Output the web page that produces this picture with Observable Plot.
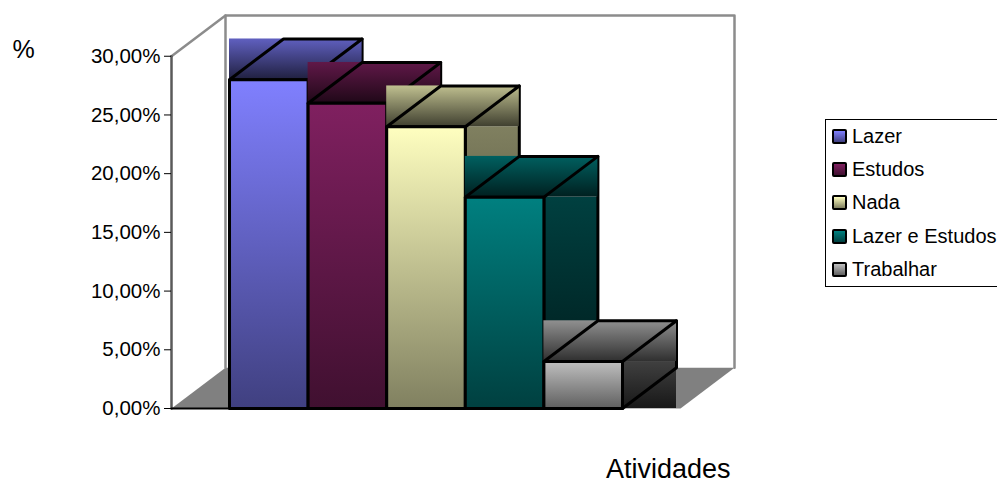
<!DOCTYPE html>
<html lang="pt-BR">
<head>
<meta charset="utf-8">
<script src="https://cdn.jsdelivr.net/npm/d3@7"></script>
<script src="https://cdn.jsdelivr.net/npm/@observablehq/plot@0.6"></script>
<style>
  html, body { margin: 0; padding: 0; background: #fff; overflow: hidden; }
  #chart { position: relative; width: 997px; height: 480px; overflow: hidden; font-family: "Liberation Sans", Arial, sans-serif; }
  #legend { position: absolute; left: 825px; top: 119px; width: 190px; height: 166px; border: 1px solid #000; box-sizing: content-box; }
  #legend div { position: absolute; left: 6px; height: 33px; display: flex; align-items: center; font-size: 20px; white-space: nowrap; color: #000; }
  #legend i { display: inline-block; width: 11px; height: 11px; border: 2px solid #000; border-radius: 2px; margin-right: 5px; }
</style>
</head>
<body>
<div id="chart"></div>
<script>
// Share of respondents per activity, in percent
const categories = ["Lazer", "Estudos", "Nada", "Lazer e Estudos", "Trabalhar"];
const values = [28, 26, 24, 18, 4];
const yTicks = [0, 5, 10, 15, 20, 25, 30];

// Gradient stops for each bar: front, top and side faces
const frontStart = ["#8080ff", "#802060", "#ffffc0", "#008080", "#c0c0c0"];
const frontEnd   = ["#404080", "#401030", "#808060", "#004040", "#606060"];
const topStart   = ["#6060c0", "#601848", "#c0c090", "#006060", "#909090"];
const topEnd     = ["#202040", "#200818", "#404030", "#002020", "#303030"];
const sideStart  = ["#404080", "#401030", "#808060", "#004040", "#404040"];
const sideEnd    = ["#101030", "#180818", "#303020", "#001818", "#181818"];

// Oblique depth of the 3-D box, expressed in scale units
const depthX = 0.687;
const depthY = 3.47;
const pad = 0.738;
const n = categories.length;
const xMax = n + pad + depthX;
const yMax = 30 + depthY;

const black = "#000";
const wall = "#8c8c8c";

function gradient(defs, id, a, b) {
  const g = defs.append("linearGradient").attr("id", id)
    .attr("x1", 0).attr("y1", 0).attr("x2", 0).attr("y2", 1);
  g.append("stop").attr("offset", 0).attr("stop-color", a);
  g.append("stop").attr("offset", 1).attr("stop-color", b);
}

const defsMark = () => {
  const defs = d3.create("svg:defs");
  categories.forEach((_, i) => {
    gradient(defs, `front${i}`, frontStart[i], frontEnd[i]);
    gradient(defs, `top${i}`, topStart[i], topEnd[i]);
    gradient(defs, `side${i}`, sideStart[i], sideEnd[i]);
  });
  return defs.node();
};

const poly = (pts, opts) => Plot.line(pts, {x: d => d[0], y: d => d[1], ...opts});
const box = (x1, x2, y1, y2, fill) =>
  Plot.rect([0], {x1: () => x1, x2: () => x2, y1: () => y1, y2: () => y2, fill});

// Painted left to right, so each bar overlaps the previous one
const barMarks = values.flatMap((v, i) => {
  const l = i, r = i + 1;
  const outline = {stroke: black, strokeWidth: 3, curve: "linear-closed"};
  return [
    box(r, r + depthX, 0, v, `url(#side${i})`),
    poly([[r, v], [r + depthX, v + depthY], [r + depthX, depthY], [r, 0]], outline),
    box(l, r + depthX, v, v + depthY, `url(#top${i})`),
    poly([[l, v], [l + depthX, v + depthY], [r + depthX, v + depthY], [r, v]], outline),
    box(l, r, 0, v, `url(#front${i})`),
    poly([[l, 0], [l, v], [r, v], [r, 0]], outline)
  ];
});

const plot = Plot.plot({
  width: 997,
  height: 480,
  marginLeft: 171,
  marginRight: 263,
  marginTop: 15,
  marginBottom: 72,
  style: {fontFamily: '"Liberation Sans", Arial, sans-serif', fontSize: "20.5px", color: "#000", background: "transparent"},
  x: {type: "linear", domain: [-pad, xMax], axis: null},
  y: {type: "linear", domain: [0, yMax], axis: null},
  marks: [
    defsMark,
    // floor
    poly([[-pad, 0], [-pad + depthX, depthY], [xMax, depthY], [xMax - depthX, 0]], {fill: "#808080", stroke: "none", curve: "linear-closed"}),
    // back wall and side wall
    poly([[-pad + depthX, depthY], [-pad + depthX, yMax], [xMax, yMax], [xMax, depthY]], {stroke: wall, strokeWidth: 2.5}),
    poly([[-pad, 30], [-pad + depthX, yMax]], {stroke: wall, strokeWidth: 2.5}),
    poly([[-pad, 0], [-pad, 30]], {stroke: "#5a5a5a", strokeWidth: 2.5}),
    ...barMarks,
    poly([[-pad, 0], [n, 0]], {stroke: black, strokeWidth: 2}),
    Plot.axisY(yTicks, {
      anchor: "left",
      label: null,
      tickSize: 7,
      tickPadding: 4,
      tickFormat: d => d.toFixed(2).replace(".", ",") + "%"
    }),
    Plot.text(["%"], {frameAnchor: "top-left", dx: -159, dy: 24.5, fontSize: 25, textAnchor: "start"}),
    Plot.text(["Atividades"], {frameAnchor: "bottom-right", dx: -4, dy: 69, fontSize: 27, textAnchor: "end"})
  ]
});

const chart = document.getElementById("chart");
chart.appendChild(plot);

const legend = document.createElement("div");
legend.id = "legend";
categories.forEach((c, i) => {
  const row = document.createElement("div");
  row.style.top = `${i * 33.2}px`;
  const sw = document.createElement("i");
  sw.style.background = `linear-gradient(${frontStart[i]}, ${frontEnd[i]})`;
  row.append(sw, c);
  legend.append(row);
});
chart.append(legend);
</script>
</body>
</html>
